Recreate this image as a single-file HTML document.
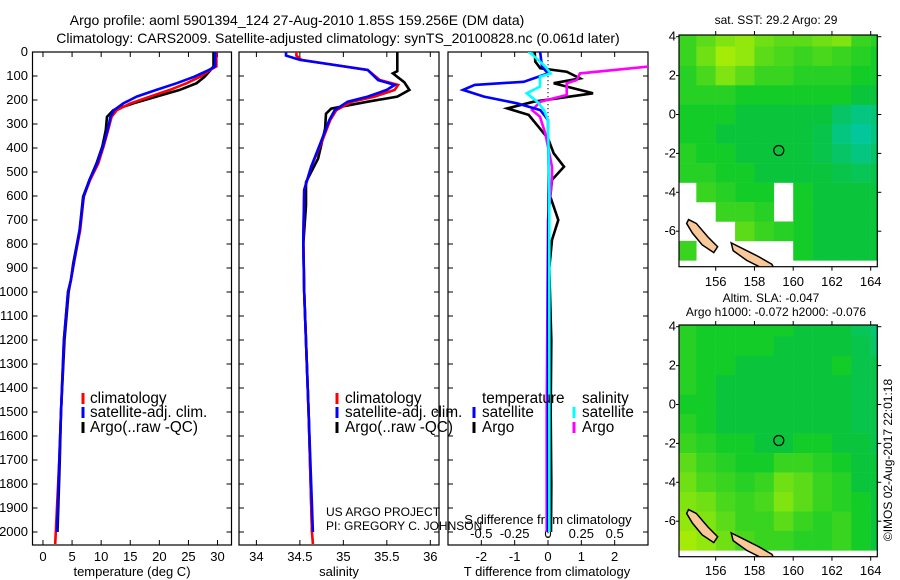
<!DOCTYPE html>
<html><head><meta charset="utf-8"><style>
body{margin:0;background:#fff;}
svg{display:block;font-family:"Liberation Sans",sans-serif;font-size:12px;}
.ax{font-size:13px}
.lg{font-size:15.3px}
.tt{font-size:14px}
</style></head><body>
<svg id="c" width="900" height="580" viewBox="0 0 900 580">
<rect width="900" height="580" fill="#fff"/>
<text class="tt" x="297" y="25" text-anchor="middle">Argo profile: aoml 5901394_124 27-Aug-2010 1.85S 159.256E (DM data)</text>
<text class="tt" x="338" y="43" text-anchor="middle">Climatology: CARS2009. Satellite-adjusted climatology: synTS_20100828.nc (0.061d later)</text>
<text x="776" y="24" text-anchor="middle">sat. SST: 29.2 Argo: 29</text>
<text x="771" y="302" text-anchor="middle">Altim. SLA: -0.047</text>
<text x="776" y="316" text-anchor="middle">Argo h1000: -0.072 h2000: -0.076</text>
<text transform="translate(892,460) rotate(-90)" text-anchor="middle">©IMOS 02-Aug-2017 22:01:18</text>
<text x="326" y="516">US ARGO PROJECT</text>
<text x="326" y="530">PI: GREGORY C. JOHNSON</text>
<g id="g"></g>
</svg>
<script>
// depth (dbar) and series values
const tDepth=[0,60,75,103,130,158,186,214,242,270,325,394,464,533,603,742,881,950,1000,1200,1500,1700,2000,2050];
const tClim=[29.8,29.8,28.7,27,24.7,21.8,18.4,15,12.7,11.8,11.2,10.4,9.5,8.1,7.0,6.4,5.3,4.8,4.3,3.6,3.1,2.8,2.2,2.1];
const tSat=[29.6,29.6,28.5,26,23,19.5,16.1,13.8,12.2,11.6,11.1,10.3,9.3,8.0,7.0,6.3,5.3,4.8,4.3,3.6,3.1,2.8,2.4];
const tArgo=[29.3,29.3,28.8,27.8,26.4,23.5,19.5,15.5,12.1,11.0,10.8,10.2,9.2,8.0,6.9,6.3,5.2,4.8,4.4,3.7,3.1,2.9,2.5];
const sDepth=[0,15,33,54,75,117,137,158,186,207,242,283,367,478,575,783,1000,1500,2000,2050];
const sClim=[34.46,34.46,34.52,34.9,35.28,35.42,35.63,35.59,35.36,35.1,34.92,34.85,34.76,34.63,34.55,34.54,34.55,34.6,34.64,34.65];
const sSat=[34.34,34.34,34.5,34.9,35.28,35.4,35.59,35.5,35.28,35.05,34.9,34.84,34.75,34.63,34.55,34.54,34.55,34.6,34.65];
const saDepth=[0,80,89,126,158,186,207,236,257,319,444,542,640,800,1000,1500,2000];
const sArgo=[35.62,35.62,35.57,35.7,35.76,35.62,35.28,34.86,34.8,34.79,34.71,34.57,34.57,34.54,34.55,34.6,34.64];
const dtSatDepth=[0,5,61,89,124,137,158,186,214,242,283,500,1000,2000];
const dtSat=[-0.25,-0.23,-0.18,0,-0.73,-2.2,-2.55,-1.92,-0.92,-0.23,0,0.02,0,0];
const dtArgoDepth=[0,40,68,82,110,130,172,207,235,262,311,360,422,478,533,603,700,783,900,1200,1500,1800,2000];
const dtArgo=[-0.4,-0.38,-0.23,0.56,0.96,0.17,1.35,-0.43,-1.22,-0.58,-0.29,0,0.17,0.48,0.12,0.07,0.31,0.12,0.04,0.1,0.08,0.1,0.09];
const dsArgoDepth=[50,61,89,117,130,179,207,242,270,339,478,520,700,1500,2000];
const dsArgo=[1.0,0.75,0.24,0.215,0.14,0.14,-0.057,-0.12,-0.06,-0.02,0.03,0.03,0,-0.01,-0.01];
const dsSatDepth=[0,5,30,61,89,103,144,172,207,242,283,600,2000];
const dsSat=[-0.15,-0.13,-0.08,-0.02,0.02,-0.06,-0.06,-0.16,-0.08,-0.03,0,0.01,0.01];
const depthTicks=[0,100,200,300,400,500,600,700,800,900,1000,1100,1200,1300,1400,1500,1600,1700,1800,1900,2000];
const tempTicks=[0,5,10,15,20,25,30];
const salTicks=[34,34.5,35,35.5,36];
const tdTicks=[-2,-1,0,1,2];
const sdTicks=[-0.5,-0.25,0,0.25,0.5];
const sdTickLabels=["-0.5","-0.25","0","0.25","0.5"];
const lonTicks=[156,158,160,162,164];
const latTicks=[4,2,0,-2,-4,-6];
// map cell values (0 = cyan, 0.5 = green, 1 = yellow-green, null = masked), rows from lat 4.5 down, cols from lon 154
const sstGrid=[
[.6,.7,.8,.85,.75,.7,.7,.75,.8,.6,.55],
[.6,.75,.9,.85,.7,.65,.6,.65,.6,.55,.5],
[.55,.65,.8,.7,.6,.6,.55,.55,.55,.5,.5],
[.55,.55,.55,.5,.5,.5,.5,.5,.5,.45,.45],
[.5,.5,.5,.45,.45,.45,.45,.45,.3,.2,.25],
[.5,.5,.45,.45,.45,.45,.45,.4,.2,.1,.2],
[.55,.5,.5,.45,.45,.45,.45,.4,.3,.2,.3],
[.55,.55,.5,.5,.45,.45,.45,.45,.4,.35,.4],
[null,.6,.55,.5,.5,null,.5,.45,.45,.45,.45],
[null,null,.6,.6,.55,null,.5,.45,.45,.45,.45],
[null,null,null,.7,.6,.55,.5,.45,.45,.45,.45],
[.6,null,null,null,null,null,.5,.45,.45,.45,.45]];
const slaGrid=[
[.55,.5,.5,.5,.5,.5,.45,.45,.45,.35,.25],
[.55,.5,.5,.5,.5,.45,.45,.45,.45,.4,.3],
[.55,.5,.5,.45,.45,.45,.45,.45,.5,.4,.4],
[.55,.5,.45,.45,.45,.45,.45,.45,.45,.4,.4],
[.5,.5,.45,.45,.45,.45,.45,.45,.45,.4,.4],
[.55,.5,.45,.45,.45,.45,.45,.45,.45,.4,.4],
[.6,.55,.5,.5,.45,.45,.5,.5,.45,.45,.4],
[.7,.6,.55,.5,.5,.6,.6,.55,.5,.45,.45],
[.75,.65,.6,.55,.6,.75,.7,.6,.55,.45,.45],
[.8,.75,.65,.6,.65,.8,.7,.6,.55,.5,.45],
[.85,.8,.7,.6,.6,.7,.6,.55,.6,.5,.45],
[.9,.85,.75,.65,.6,.6,.55,.55,.6,.5,.45]];
const floatLon=159.256, floatLat=-1.85;

const NS="http://www.w3.org/2000/svg";
const G=document.getElementById('g');
function mk(tag,attrs,parent){const e=document.createElementNS(NS,tag);for(const k in attrs)e.setAttribute(k,attrs[k]);(parent||G).appendChild(e);return e;}
const TOP=52,BOT=545;
const yD=d=>TOP+d*0.24;
const panels=[{x0:32.5,x1:231.5,lo:-1.8,hi:32.4},{x0:239,x1:439,lo:33.8,hi:36.1},{x0:448,x1:648,lo:-3,hi:3}];
function xf(p){return v=>p.x0+(v-p.lo)/(p.hi-p.lo)*(p.x1-p.x0);}
const defs=mk('defs',{});
panels.forEach((p,i)=>{const cp=mk('clipPath',{id:'cp'+i},defs);mk('rect',{x:p.x0,y:TOP,width:p.x1-p.x0,height:BOT-TOP},cp);});
function line(p,i,depths,vals,color,name,scale){
  const x=xf(p);const n=Math.min(depths.length,vals.length);let pts=[];
  for(let k=0;k<n;k++)pts.push(x(vals[k]*(scale||1)).toFixed(1)+','+yD(depths[k]).toFixed(1));
  const e=mk('polyline',{points:pts.join(' '),fill:'none',stroke:color,'stroke-width':2.6,'stroke-linejoin':'miter','clip-path':'url(#cp'+i+')'});
  
  
}
panels.forEach((p,i)=>{
  const f=mk('rect',{x:p.x0,y:TOP,width:p.x1-p.x0,height:BOT-TOP,fill:'none',stroke:'#000','stroke-width':1.2});
  
  
  depthTicks.forEach(d=>{const y=yD(d);mk('line',{x1:p.x0,x2:p.x0+5,y1:y,y2:y,stroke:'#000'});mk('line',{x1:p.x1,x2:p.x1-5,y1:y,y2:y,stroke:'#000'});});
});
depthTicks.forEach(d=>{const t=mk('text',{x:28,y:yD(d)+4,'text-anchor':'end','class':'ax'});t.textContent=d;
  
  });
function xticks(p,ticks,labels,ly){const x=xf(p);ticks.forEach((v,k)=>{const X=x(v);
  mk('line',{x1:X,x2:X,y1:BOT,y2:BOT-5,stroke:'#000'});mk('line',{x1:X,x2:X,y1:TOP,y2:TOP+5,stroke:'#000'});
  if(labels){const t=mk('text',{x:X,y:ly,'text-anchor':'middle','class':'ax'});t.textContent=labels[k];
    
    }});}
xticks(panels[0],tempTicks,tempTicks.map(String),561);
xticks(panels[1],salTicks,salTicks.map(String),561);
xticks(panels[2],tdTicks,tdTicks.map(String),561);
{const x=xf(panels[2]);sdTicks.forEach((v,k)=>{const t=mk('text',{x:x(v*4),y:538,'text-anchor':'middle','class':'ax'});t.textContent=sdTickLabels[k];
  
  });
 for(let y=TOP;y<BOT;y+=4)mk('line',{x1:x(0),x2:x(0),y1:y,y2:y+1.3,stroke:'#000','stroke-width':1});}
[[132,'temperature (deg C)','temperature-axis-title'],[339,'salinity','salinity-axis-title'],[547,'T difference from climatology','t-diff-axis-title']].forEach(a=>{
  const t=mk('text',{x:a[0],y:576,'text-anchor':'middle','class':'ax'});t.textContent=a[1];
  
  });
{const t=mk('text',{x:548,y:524,'text-anchor':'middle','class':'ax'});t.textContent='S difference from climatology';
 
 }
line(panels[0],0,tDepth,tArgo,'#000','temp-argo-line');
line(panels[0],0,tDepth,tClim,'#f00','temp-climatology-line');
line(panels[0],0,tDepth,tSat,'#00f','temp-satellite-line');
line(panels[1],1,saDepth,sArgo,'#000','sal-argo-line');
line(panels[1],1,sDepth,sClim,'#f00','sal-climatology-line');
line(panels[1],1,sDepth,sSat,'#00f','sal-satellite-line');
line(panels[2],2,dtArgoDepth,dtArgo,'#000','t-diff-argo-line');
line(panels[2],2,dsArgoDepth,dsArgo,'#f0f','s-diff-argo-line',4);
line(panels[2],2,dtSatDepth,dtSat,'#00f','t-diff-satellite-line');
line(panels[2],2,dsSatDepth,dsSat,'#0ff','s-diff-satellite-line',4);
function leg(mx,tx,y,color,label,name){
  const m=mk('rect',{x:mx-1.5,y:y-10,width:3,height:11,fill:color});
  
  
  const t=mk('text',{x:tx,y:y,'class':'lg'});t.textContent=label;
  
  }
[[83,90],[337,345]].forEach((c,i)=>{
  leg(c[0],c[1],403,'#f00','climatology','legend-climatology');
  leg(c[0],c[1],417,'#00f','satellite-adj. clim.','legend-satellite-adj');
  leg(c[0],c[1],432,'#000','Argo(..raw -QC)','legend-argo');});
{const t=mk('text',{x:482,y:403,'class':'lg'});t.textContent='temperature';
 const t2=mk('text',{x:582,y:403,'class':'lg'});t2.textContent='salinity';}
leg(474,482,417,'#00f','satellite','legend-t-satellite');
leg(474,482,432,'#000','Argo','legend-t-argo');
leg(574,582,417,'#0ff','satellite','legend-s-satellite');
leg(574,582,432,'#f0f','Argo','legend-s-argo');

function col(v){
  const stops=[[0,[0,200,185]],[0.45,[10,196,60]],[0.5,[20,204,40]],[1,[200,244,0]]];
  for(let i=1;i<stops.length;i++){if(v<=stops[i][0]){const a=stops[i-1],b=stops[i];const t=(v-a[0])/(b[0]-a[0]);
    return 'rgb('+a[1].map((c,k)=>Math.round(c+(b[1][k]-c)*t)).join(',')+')';}}
  return 'rgb(200,244,0)';}
function drawMap(grid,top,bot,ly,idx,name){
  const x0=679,x1=877.3;
  const xL=lon=>715.7+(lon-156)*19.375;
  const lat4=top+1.7;const yL=lat=>lat4+(4-lat)*19.45;
  const cp=mk('clipPath',{id:'mcp'+idx},defs);mk('rect',{x:x0,y:top,width:x1-x0,height:bot-top},cp);
  const g=mk('g',{'clip-path':'url(#mcp'+idx+')'});
  
  
  mk('rect',{x:x0,y:top,width:x1-x0,height:bot-top,fill:'#fff'},g);
  grid.forEach((row,r)=>row.forEach((v,c)=>{if(v===null)return;
    const lon=154+c,lat=4.5-r;
    const e=mk('rect',{x:xL(lon),y:yL(lat),width:19.6,height:19.7,fill:col(v)},g);
    
    }));
  const isl=[[[154.6,-5.4],[155.0,-5.6],[155.6,-6.3],[156.1,-6.8],[155.9,-7.1],[155.3,-6.7],[154.8,-6.1],[154.5,-5.6]],
             [[156.8,-6.6],[157.4,-6.9],[158.2,-7.3],[158.9,-7.7],[159.0,-7.9],[158.4,-7.9],[157.6,-7.5],[156.9,-7.0]]];
  isl.forEach(poly=>{const e=mk('polygon',{points:poly.map(p=>xL(p[0])+','+yL(p[1])).join(' '),fill:'#f8c898',stroke:'#000','stroke-width':1.5},g);
    
    });
  const circ=mk('circle',{cx:xL(floatLon),cy:yL(floatLat),r:5,fill:'none',stroke:'#000','stroke-width':1.2});
  
  
  const fr=mk('rect',{x:x0,y:top,width:x1-x0,height:bot-top,fill:'none',stroke:'#000','stroke-width':1.2});
  
  
  lonTicks.forEach(l=>{const X=xL(l);mk('line',{x1:X,x2:X,y1:top,y2:top-4,stroke:'#000'});mk('line',{x1:X,x2:X,y1:bot,y2:bot+4,stroke:'#000'});
    const t=mk('text',{x:X,y:ly,'text-anchor':'middle','class':'ax'});t.textContent=l;
    
    });
  latTicks.forEach(l=>{const Y=yL(l);mk('line',{x1:x1,x2:x1+4,y1:Y,y2:Y,stroke:'#000'});mk('line',{x1:x0,x2:x0-3,y1:Y,y2:Y,stroke:'#000'});
    const t=mk('text',{x:676,y:Y+4,'text-anchor':'end','class':'ax'});t.textContent=l;
    
    });
}
drawMap(sstGrid,35,266.7,286,0,'sst-map');
drawMap(slaGrid,325,556.7,575,1,'sla-map');
</script>
</body></html>
